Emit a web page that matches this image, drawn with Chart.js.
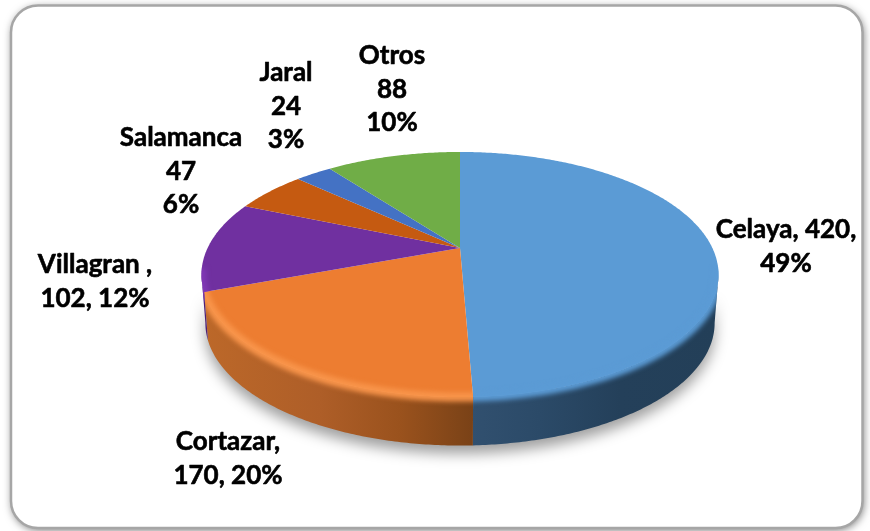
<!DOCTYPE html>
<html><head><meta charset="utf-8">
<style>html,body{margin:0;padding:0;background:#fff}#w{width:870px;height:531px}</style>
<script src="https://cdn.jsdelivr.net/npm/chart.js@4"></script>
</head><body><div id="w"><canvas id="c" width="870" height="531"></canvas></div>
<script>
const categories = ['Celaya','Cortazar','Villagran','Salamanca','Jaral','Otros'];
const values = [420,170,102,47,24,88];
const faceColors = ['#5B9BD5','#ED7D31','#7030A0','#C55A11','#4472C4','#70AD47'];
const bevelColors = ['#5B9BD5','#F8944A','#8038B5','#C55A11','#4472C4','#70AD47'];
const wallStops = [
  [[472,'#31506F'],[540,'#2B4A68'],[620,'#24405A'],[718,'#233F58']],
  [[205,'#BC6829'],[320,'#AE5E28'],[400,'#9A521D'],[472,'#7A4217']],
  [[200,'#4D2075'],[210,'#4D2075']],
  [[200,'#8A3F0C'],[700,'#8A3F0C']],
  [[200,'#2F4F88'],[700,'#2F4F88']],
  [[200,'#4E7931'],[700,'#4E7931']]
];
// label anchors: centre x, first baseline y, line texts built from the data
const labelFont = 'bold 26px Lato';
const lineH = 33.5;
const total = values.reduce((s,v)=>s+v,0);
const pct = i => Math.round(values[i]/total*100)+'%';
const labelLines = [
  {x:786,y:238,lines:[categories[0]+', '+values[0]+',',pct(0)]},
  {x:228,y:450,lines:[categories[1]+',',values[1]+', '+pct(1)]},
  {x:95,y:273,lines:[categories[2]+' ,',values[2]+', '+pct(2)]},
  {x:181,y:146,lines:[categories[3],String(values[3]),pct(3)]},
  {x:286,y:81,lines:[categories[4],String(values[4]),pct(4)]},
  {x:392,y:64,lines:[categories[5],String(values[5]),pct(5)]}
];
// perspective of the tilted disc
const P = -0.2163, A = 252.4, B = 116.8, DEPTH = 48.5, TAPER = 0.985;
function proj(el,a,bottom){
  const u=Math.cos(a), v=Math.sin(a), w=1+P*v;
  let x=A*u/w, y=B*v/w;
  if(bottom){x*=TAPER;y+=DEPTH;}
  return [el.x+x, el.y+y];
}
function trace(ctx,el,a0,a1,bottom,first){
  const n=Math.max(2,Math.ceil(Math.abs(a1-a0)/0.01));
  for(let i=0;i<=n;i++){
    const p=proj(el,a0+(a1-a0)*i/n,bottom);
    if(i===0&&first)ctx.moveTo(p[0],p[1]);else ctx.lineTo(p[0],p[1]);
  }
}
const V0=Math.asin(-P), V1=Math.PI-V0;
Chart.ArcElement.prototype.draw=function(ctx){
  const {x,y,startAngle:s,endAngle:e}=this.getProps(['x','y','startAngle','endAngle']);
  const el={x,y};
  const idx=this.$context?this.$context.index:0;
  const a0=Math.max(s,V0), a1=Math.min(e,V1), hasWall=a1>a0;
  ctx.save();
  if(hasWall){
    const g=ctx.createLinearGradient(200,0,720,0);
    wallStops[idx].forEach(st=>g.addColorStop(Math.min(1,Math.max(0,(st[0]-200)/520)),st[1]));
    ctx.beginPath();trace(ctx,el,a0,a1,false,true);trace(ctx,el,a1,a0,true,false);ctx.closePath();
    ctx.fillStyle=g;ctx.fill();
  }
  ctx.beginPath();ctx.moveTo(x,y);trace(ctx,el,s,e,false,false);ctx.closePath();
  ctx.fillStyle=faceColors[idx];ctx.fill();
  if(hasWall){
    ctx.beginPath();ctx.moveTo(x,y);trace(ctx,el,s,e,false,false);ctx.closePath();
    const q0=proj(el,a0,false);
    ctx.moveTo(q0[0],q0[1]);trace(ctx,el,a0,a1,false,false);trace(ctx,el,a1,a0,true,false);ctx.closePath();
    ctx.clip();
    ctx.filter='blur(2.5px)';
    ctx.beginPath();trace(ctx,el,a0-0.05,a1+0.05,false,true);
    ctx.strokeStyle=bevelColors[idx];ctx.lineWidth=9;ctx.lineCap='butt';ctx.stroke();
    ctx.filter='none';
  }
  ctx.restore();
};
const deco={
  id:'deco',
  beforeDraw(chart){
    const c=chart.ctx;c.save();
    c.fillStyle='#fff';c.fillRect(0,0,870,531);
    c.shadowColor='rgba(0,0,0,.55)';c.shadowBlur=8;c.shadowOffsetX=1;c.shadowOffsetY=2;
    c.beginPath();c.roundRect(11,5.5,851.5,522.5,27);
    c.fillStyle='#fff';c.fill();
    c.shadowColor='transparent';
    c.strokeStyle='#A6A6A6';c.lineWidth=2.5;c.stroke();
    c.restore();
  },
  beforeDatasetsDraw(chart){
    const c=chart.ctx, el=chart.getDatasetMeta(0).data[0];
    c.save();
    c.filter='blur(7px)';
    c.fillStyle='rgba(0,0,0,.38)';
    c.beginPath();trace(c,{x:el.x,y:el.y+8},V0,V1,true,true);trace(c,{x:el.x,y:el.y-30},V1,V0,true,false);c.closePath();c.fill();
    c.restore();
  },
  afterDraw(chart){
    const c=chart.ctx;c.save();
    c.font=labelFont;c.fillStyle='#000';c.strokeStyle='#000';c.lineWidth=0.6;c.lineJoin='round';
    c.textAlign='center';c.textBaseline='alphabetic';
    labelLines.forEach(l=>l.lines.forEach((t,i)=>{c.fillText(t,l.x,l.y+i*lineH);c.strokeText(t,l.x,l.y+i*lineH);}));
    c.restore();
  }
};
new Chart(document.getElementById('c'),{
  type:'pie',
  data:{labels:categories,datasets:[{data:values,backgroundColor:faceColors,borderWidth:0,clip:false}]},
  options:{responsive:false,animation:false,
    layout:{padding:{left:50,right:0,top:0,bottom:35}},
    plugins:{legend:{display:false},tooltip:{enabled:false},title:{display:false}}},
  plugins:[deco]
});
</script></body></html>
